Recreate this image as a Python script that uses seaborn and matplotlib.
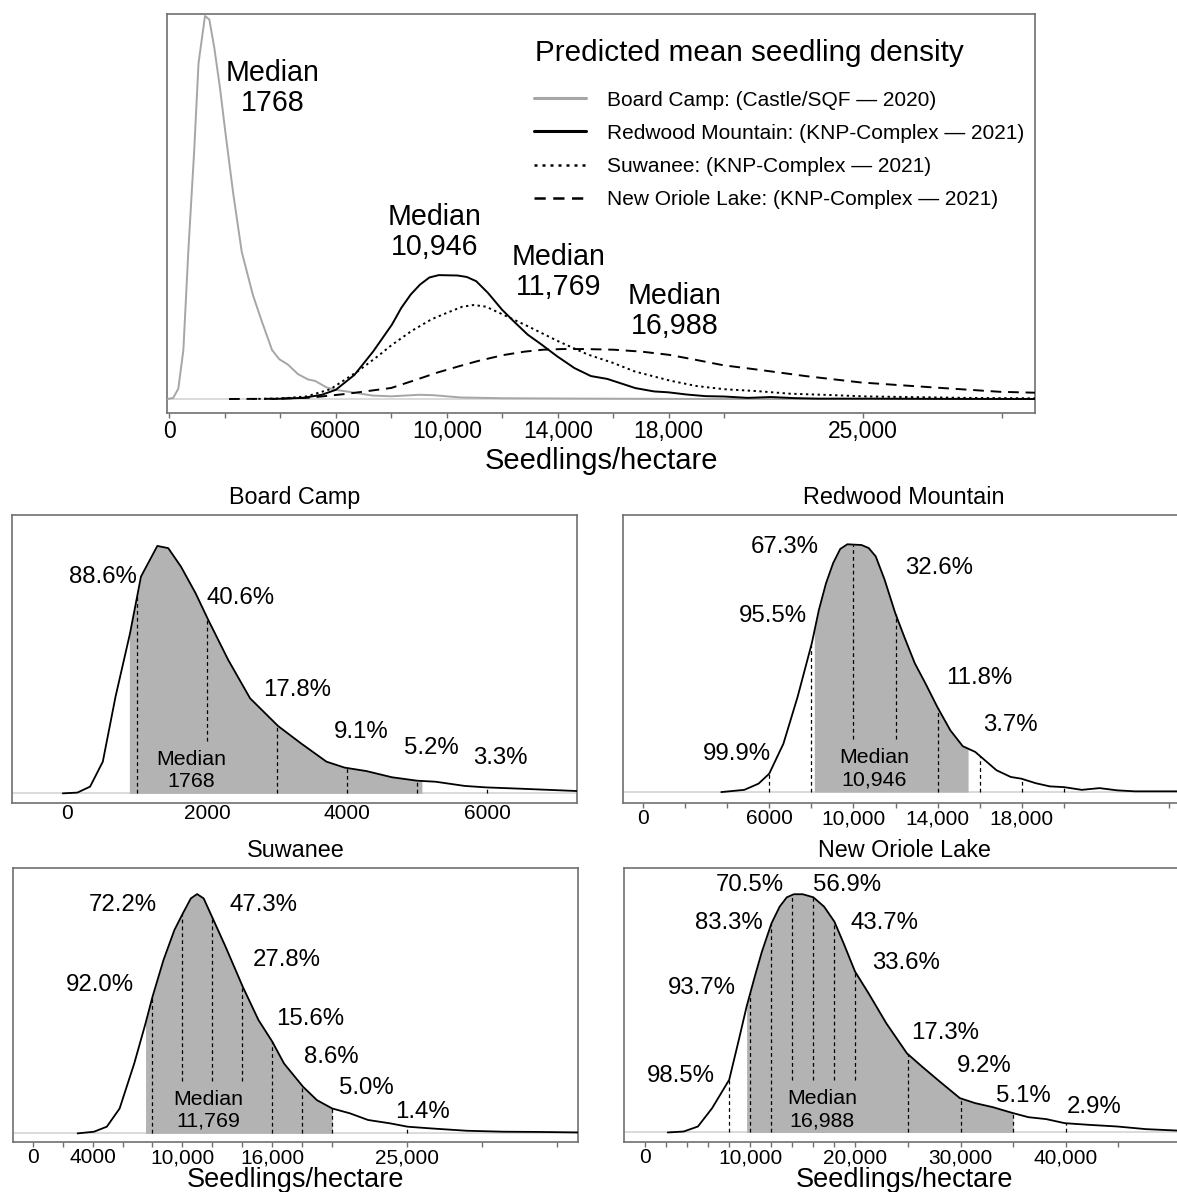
import numpy as np
import matplotlib
matplotlib.use("Agg")
import matplotlib.pyplot as plt
import seaborn as sns
from matplotlib.lines import Line2D

sns.set_style("white")
plt.rcParams['font.family'] = ['Liberation Sans', 'DejaVu Sans']
plt.rcParams['text.color'] = 'black'
plt.rcParams['axes.labelcolor'] = 'black'
plt.rcParams['xtick.color'] = 'black'
plt.rcParams['axes.titlecolor'] = 'black'

# ---------------- data ----------------
# density curves (x in seedlings/ha, relative height: peak = 1)
bc_x = [-65, 143, 325, 507, 689, 896, 1052, 1286, 1442, 1624, 1832, 2013, 2299, 2611, 3011, 3338,
        3702, 3961, 4273, 4637, 5000, 5260, 5676, 5987, 6455, 7312, 8000, 9000, 9500, 10500, 12000,
        15000, 20000, 31200]
bc_h = [0.0, 0.003, 0.027, 0.128, 0.391, 0.647, 0.876, 1.0, 0.991, 0.916, 0.809, 0.701, 0.539, 0.384,
        0.272, 0.202, 0.128, 0.104, 0.090, 0.065, 0.051, 0.047, 0.030, 0.024, 0.019, 0.009, 0.007,
        0.011, 0.010, 0.004, 0.002, 0.001, 0.0, 0.0]

rw_x = [3723, 4819, 5494, 6000, 6675, 7350, 8024, 8362, 8699, 9037, 9374, 9711, 10386, 10724, 11061,
        11483, 11989, 12411, 12917, 13423, 13980, 14604, 15194, 15785, 16291, 16797, 17472, 17978,
        18653, 19327, 20002, 20846, 21689, 22533, 23376, 25367, 28000, 31200]
rw_h = [0.0, 0.009, 0.034, 0.074, 0.195, 0.384, 0.600, 0.735, 0.842, 0.923, 0.980, 0.999, 0.996, 0.984,
        0.950, 0.856, 0.721, 0.627, 0.519, 0.438, 0.344, 0.249, 0.185, 0.162, 0.125, 0.088, 0.061,
        0.054, 0.036, 0.023, 0.020, 0.009, 0.016, 0.007, 0.003, 0.003, 0.001, 0.0]

sw_x = [2998, 4096, 4950, 5804, 6780, 7536, 8000, 8732, 9464, 10025, 10562, 10977, 11416, 12026, 12880,
        14027, 15076, 16003, 16784, 18053, 18980, 20005, 21176, 22396, 23860, 25031, 26544, 28984,
        31424, 33864, 36426]
sw_h = [0.0, 0.007, 0.028, 0.104, 0.292, 0.460, 0.571, 0.724, 0.850, 0.919, 0.982, 1.0, 0.982, 0.898,
        0.780, 0.613, 0.474, 0.383, 0.292, 0.195, 0.139, 0.104, 0.084, 0.056, 0.042, 0.028, 0.021,
        0.011, 0.007, 0.006, 0.004]

no_x = [2153, 3674, 5026, 6378, 8000, 8913, 9656, 10434, 11110, 12022, 12800, 13476, 14152, 14997,
        16011, 17025, 18005, 18884, 19965, 21250, 22940, 24900, 26320, 28010, 29936, 31390, 33080,
        35006, 36460, 38150, 39907, 42206, 44910, 47614, 50588, 52000]
no_h = [0.0, 0.004, 0.025, 0.102, 0.221, 0.388, 0.528, 0.654, 0.758, 0.877, 0.947, 0.986, 0.999, 0.999,
        0.986, 0.947, 0.884, 0.793, 0.675, 0.584, 0.458, 0.332, 0.277, 0.214, 0.144, 0.123, 0.106,
        0.081, 0.064, 0.056, 0.039, 0.032, 0.025, 0.014, 0.008, 0.006]

# relative peak heights in the combined (top) panel
peak_heights = {"bc": 383, "rw": 124, "sw": 94, "no": 50}

# medians
medians = {"bc": "1768", "rw": "10,946", "sw": "11,769", "no": "16,988"}

# 90% intervals (shaded)
bc_ci = [886, 5065]
rw_ci = [8142, 15447]
sw_ci = [7536, 20000]
no_ci = [9656, 35000]

# thresholds and exceedance probabilities
bc_thr = [1000, 2000, 3000, 4000, 5000, 6000]
bc_pct = ["88.6%", "40.6%", "17.8%", "9.1%", "5.2%", "3.3%"]
rw_thr = [6000, 8000, 10000, 12000, 14000, 16000, 18000, 20000]
rw_pct = ["99.9%", "95.5%", "67.3%", "32.6%", "11.8%", "3.7%", "", ""]
sw_thr = [8000, 10000, 12000, 14000, 16000, 18000, 20000, 25000]
sw_pct = ["92.0%", "72.2%", "47.3%", "27.8%", "15.6%", "8.6%", "5.0%", "1.4%"]
no_thr = [8000, 10000, 12000, 14000, 16000, 18000, 20000, 25000, 30000, 35000, 40000]
no_pct = ["98.5%", "93.7%", "83.3%", "70.5%", "56.9%", "43.7%", "33.6%", "17.3%", "9.2%", "5.1%", "2.9%"]

titles = {"bc": "Board Camp", "rw": "Redwood Mountain", "sw": "Suwanee", "no": "New Oriole Lake"}
legend_labels = ["Board Camp: (Castle/SQF \u2014 2020)",
                 "Redwood Mountain: (KNP-Complex \u2014 2021)",
                 "Suwanee: (KNP-Complex \u2014 2021)",
                 "New Oriole Lake: (KNP-Complex \u2014 2021)"]
legend_title = "Predicted mean seedling density"
xlabel = "Seedlings/hectare"

# ticks
top_ticks = [0, 2000, 4000, 6000, 8000, 10000, 12000, 14000, 16000, 18000, 20000, 25000, 30000]
top_labels = ["0", "", "", "6000", "", "10,000", "", "14,000", "", "18,000", "", "25,000", ""]
bc_ticks = [0, 2000, 4000, 6000]
bc_labels = ["0", "2000", "4000", "6000"]
rw_ticks = [0, 2000, 4000, 6000, 8000, 10000, 12000, 14000, 16000, 18000, 20000, 25000]
rw_labels = ["0", "", "", "6000", "", "10,000", "", "14,000", "", "18,000", "", ""]
sw_ticks = [0, 2000, 4000, 6000, 8000, 10000, 12000, 14000, 16000, 18000, 20000, 25000, 30000, 35000]
sw_labels = ["0", "", "4000", "", "", "10,000", "", "", "16,000", "", "", "25,000", "", ""]
no_ticks = [0, 2000, 4000, 6000, 8000, 10000, 12000, 14000, 16000, 18000, 20000, 25000, 30000, 35000,
            40000, 45000]
no_labels = ["0", "", "", "", "", "10,000", "", "", "", "", "20,000", "", "30,000", "", "40,000", ""]

# ---------------- layout / style ----------------
W, H = 1177, 1192
SHADE = "#b3b3b3"
BASE = "#d4d4d4"
FRAME = "#707070"
GRAY = "#a6a6a6"


def box(l, t, r, b):
    return [l / W, 1 - b / H, (r - l) / W, (b - t) / H]


fig = plt.figure(figsize=(W / 100, H / 100), dpi=100)
renderer = fig.canvas.get_renderer()


def style_frame(ax):
    for s in ax.spines.values():
        s.set_color(FRAME)
        s.set_linewidth(1.2)
    ax.set_yticks([])


# ---------------- top panel ----------------
ax = fig.add_axes(box(167, 14, 1035, 413))
ax.axhline(0, color=BASE, lw=1.2, zorder=0)
top_series = [("bc", bc_x, bc_h, GRAY, "-"),
              ("rw", rw_x, rw_h, "black", "-"),
              ("sw", sw_x, sw_h, "black", (0, (1.2, 1.8))),
              ("no", no_x, no_h, "black", (0, (5.5, 3.5)))]
for key, x, h, c, ls in top_series:
    sns.lineplot(x=np.array(x), y=np.array(h) * peak_heights[key], ax=ax, color=c,
                 linestyle=ls, lw=1.4, zorder=3)
ax.set_xlim(-83, 31200)
ax.set_ylim(-14, 385)
style_frame(ax)
ax.set_xticks(top_ticks)
ax.set_xticklabels(top_labels)
ax.tick_params(axis="x", direction="out", length=5 * 0.72, width=1, color=FRAME,
               labelsize=16.5, pad=1.5, bottom=True)
ax.set_xlabel(xlabel, fontsize=21, labelpad=3)

top_median_pos = {"bc": (3737, 311), "rw": (9575, 167), "sw": (14020, 127), "no": (18200, 88)}
for key, (mx, my) in top_median_pos.items():
    ax.text(mx, my, "Median\n" + medians[key], ha="center", va="center", fontsize=20.6,
            linespacing=1.05)

ax.text((535 - 167) / 868, (413 - 53) / 399, legend_title, transform=ax.transAxes,
        ha="left", va="center", fontsize=21.3)
handles = [Line2D([], [], color=GRAY, lw=2.2),
           Line2D([], [], color="black", lw=2.2),
           Line2D([], [], color="black", lw=1.8, ls=(0, (1.2, 2.0))),
           Line2D([], [], color="black", lw=1.8, ls=(0, (4.5, 3.0)))]
leg = ax.legend(handles, legend_labels, fontsize=15,
                frameon=False, loc="upper left", bbox_to_anchor=(0.4228, 0.808), borderpad=0,
                borderaxespad=0, handlelength=2.5, handletextpad=1.0, labelspacing=0.68)


# ---------------- bottom panels ----------------
def panel(rect, key, x, h, ci, thr, pct, pct_pos, med_pos, xlim, ylim, ticks, labels,
          show_xlabel, tick_len=5):
    ax = fig.add_axes(box(*rect))
    ax.set_xlim(*xlim)
    ax.set_ylim(*ylim)
    x = np.array(x, dtype=float)
    h = np.array(h, dtype=float)
    ax.axhline(0, color=BASE, lw=1.2, zorder=0)
    xs = np.linspace(ci[0], ci[1], 400)
    ax.fill_between(xs, 0, np.interp(xs, x, h), color=SHADE, lw=0, zorder=1)
    med = ax.text(med_pos[0], med_pos[1], "Median\n" + medians[key], ha="center", va="center",
                  fontsize=15.4, linespacing=1.2, zorder=3)
    bb = med.get_window_extent(renderer)
    inv = ax.transData.inverted()
    (mx0, _), (mx1, my1) = inv.transform([[bb.x0 - 4, bb.y0], [bb.x1 + 4, bb.y1 + 9]])
    for t in thr:
        y0 = my1 if mx0 <= t <= mx1 else 0
        ax.plot([t, t], [y0, np.interp(t, x, h)], color="black", lw=0.9, ls=(0, (3, 2.5)), zorder=2)
    sns.lineplot(x=x, y=h, ax=ax, color="black", lw=1.3, zorder=4)
    for p, (px, py) in zip(pct, pct_pos):
        if p:
            ax.text(px, py, p, ha="center", va="center", fontsize=17.3, zorder=5)
    ax.set_xlim(*xlim)
    ax.set_ylim(*ylim)
    style_frame(ax)
    ax.set_xticks(ticks)
    ax.set_xticklabels(labels)
    ax.tick_params(axis="x", direction="out", length=tick_len * 0.72, width=1,
                   color=FRAME if tick_len else "none", labelsize=15, pad=0.8, bottom=True)
    ax.set_title(titles[key], fontsize=16.8, pad=8)
    if show_xlabel:
        ax.set_xlabel(xlabel, fontsize=19.5, labelpad=0)
    else:
        ax.set_xlabel("")
    return ax


bc_pos = [(507, 0.876), (2481, 0.788), (3286, 0.418), (4195, 0.249), (5198, 0.182), (6185, 0.142)]
rw_pos = [(4482, 0.152), (6169, 0.710), (6759, 0.988), (14064, 0.903), (15987, 0.461),
          (17438, 0.272), (0, 0), (0, 0)]
sw_pos = [(4462, 0.620), (5999, 0.954), (15442, 0.954), (16979, 0.724), (18541, 0.480),
          (19956, 0.320), (22274, 0.188), (26056, 0.091)]
no_pos = [(3403, 0.237), (5431, 0.605), (7966, 0.877), (9927, 1.038), (19222, 1.038),
          (22771, 0.877), (24799, 0.709), (28517, 0.419), (32235, 0.279), (36020, 0.154),
          (42713, 0.106)]

panel((12, 515, 577, 803), "bc", bc_x, bc_h, bc_ci, bc_thr, bc_pct, bc_pos, (1764, 0.094),
      (-790, 7280), (-0.039, 1.125), bc_ticks, bc_labels, False, tick_len=0)
panel((623, 515, 1185, 803), "rw", rw_x, rw_h, rw_ci, rw_thr, rw_pct, rw_pos, (10977, 0.094),
      (-944, 25750), (-0.044, 1.117), rw_ticks, rw_labels, False)
panel((13, 868, 578, 1142), "sw", sw_x, sw_h, sw_ci, sw_thr, sw_pct, sw_pos, (11733, 0.097),
      (-1316, 36416), (-0.036, 1.109), sw_ticks, sw_labels, True)
panel((624, 868, 1185, 1142), "no", no_x, no_h, no_ci, no_thr, no_pct, no_pos, (16856, 0.095),
      (-2005, 51350), (-0.040, 1.109), no_ticks, no_labels, True)

fig.savefig("out.png", dpi=100)
